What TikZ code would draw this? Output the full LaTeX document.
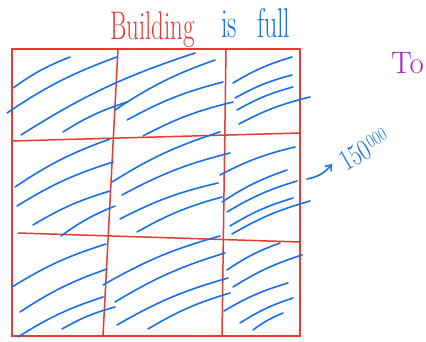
\documentclass[tikz,border=0pt]{standalone}
\usepackage{tikz}
\usetikzlibrary{arrows.meta}
\usetikzlibrary{positioning}

\definecolor{penred}{RGB}{232,58,48}
\definecolor{penblue}{RGB}{22,112,232}
\definecolor{penpurple}{RGB}{168,30,200}

\tikzset{
    wall/.style={draw=penred, line width=1.5pt},
    hatch/.style={draw=penblue, line width=1.6pt, line cap=round},
    scribble/.style={inner sep=0pt, font=\fontsize{25}{27}\selectfont, transform shape, yscale=1.6}
}

\begin{document}
\begin{tikzpicture}[x=1pt, y=-1pt]
        \useasboundingbox (0,0) rectangle (426,342);

        % floor plan
        \draw[wall] (12,49) rectangle (300,336);
        \draw[wall] (118,49) -- (103,336);
        \draw[wall] (226,49) -- (222,336);
        \draw[wall] (12,141) -- (300,133);
        \draw[wall] (18,233) -- (300,242);

        % filled rooms
        \foreach \ax/\ay/\bx/\by in {
            13/88/70/57, 7/113/117/57, 21/135/195/53, 63/132/127/102,
            115/110/215/60, 127/120/223/82, 143/136/233/102,
            233/83/292/57, 235/98/292/75, 237/110/293/87, 239/124/310/97,
            15/187/110/139, 17/206/113/162, 33/225/110/191, 61/236/115/206,
            112/182/220/132, 122/195/230/153, 120/219/218/183, 137/232/222/197,
            220/175/295/147, 222/202/287/170, 227/212/297/181, 230/226/293/198, 232/234/310/201,
            12/287/106/244, 20/312/107/269, 18/337/103/297, 62/329/115/307,
            103/285/220/236, 115/302/225/253, 117/325/228/278, 148/329/230/293,
            227/270/280/243, 233/287/302/255, 224/311/288/283, 240/323/293/298, 253/330/283/313}
            \draw[hatch] (\ax,\ay) to[bend left=7] (\bx,\by);

        % labels
        \node[scribble, text=penred, anchor=base west] (building) at (110,40) {Building};
        \node[scribble, text=penblue, anchor=base west, font=\fontsize{26}{28}\selectfont] (full) at (221,38)
            {is\hspace{20pt}full};
        \node[inner sep=0pt, text=penpurple, anchor=base west, font=\fontsize{31}{33}\selectfont] (to) at (391,74) {To};

        \node[inner sep=0pt, text=penblue, anchor=base west, rotate=30, transform shape, yscale=1.3,
            font=\fontsize{23}{25}\selectfont] (count) at (346,172)
            {150\kern1pt\raisebox{6pt}{\fontsize{15}{16}\selectfont 000}};
        \coordinate (tail) at (307,179);
        \coordinate (head) at (332,164);
        \draw[hatch, -{Straight Barb[length=5pt, width=8pt]}] (tail) to[bend right=20] (head);
\end{tikzpicture}
\end{document}
